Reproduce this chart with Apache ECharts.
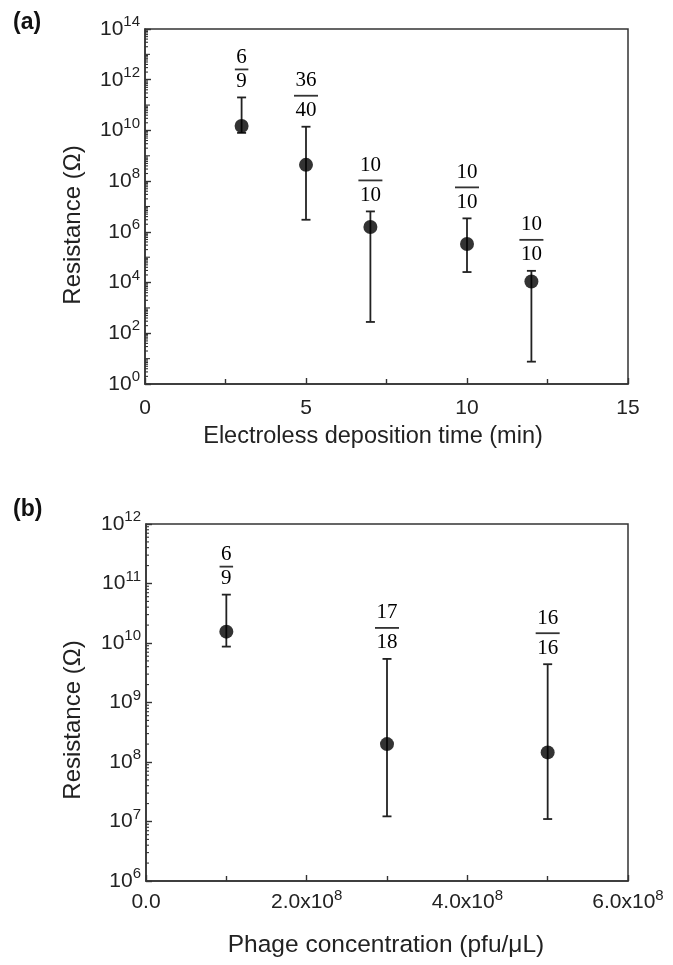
<!DOCTYPE html>
<html><head><meta charset="utf-8">
<script src="https://cdn.jsdelivr.net/npm/echarts@6/dist/echarts.min.js"></script>
<style>html,body{margin:0;padding:0;background:#fff}#c{width:673px;height:965px}</style>
</head><body><div id="c"></div>
<script>
// ---- Panel (a): resistance vs electroless deposition time ----
const timeMin   = [3, 5, 7, 10, 12];
const resA      = [1.5e10, 4.4e8, 1.55e6, 3.3e5, 1.1e4];
const resAHigh  = [2.0e11, 1.4e10, 6.4e6, 3.4e6, 2.9e4];
const resALow   = [8.0e9, 3.0e6, 280, 2.6e4, 7.6];
const fracANum  = ['6', '36', '10', '10', '10'];
const fracADen  = ['9', '40', '10', '10', '10'];
const xTicksA   = [0, 5, 10, 15];
const yExpA     = [0, 2, 4, 6, 8, 10, 12, 14];

// ---- Panel (b): resistance vs phage concentration ----
const phageConc = [1e8, 3e8, 5e8];
const resB      = [1.55e10, 2.0e8, 1.45e8];
const resBHigh  = [6.5e10, 5.4e9, 4.4e9];
const resBLow   = [8.7e9, 1.22e7, 1.1e7];
const fracBNum  = ['6', '17', '16'];
const fracBDen  = ['9', '18', '16'];
const xTicksB   = ['0.0', '2.0x10^8', '4.0x10^8', '6.0x10^8'];
const yExpB     = [6, 7, 8, 9, 10, 11, 12];

const INK = '#222';
const AX = '#333';
const SANS = 'Liberation Sans, Arial, sans-serif';
const SERIF = 'Liberation Serif, Times New Roman, serif';

function errRender(nums, dens) {
  return function (params, api) {
    const x = api.value(0), lo = api.value(1), hi = api.value(2);
    const pLo = api.coord([x, lo]), pHi = api.coord([x, hi]);
    const cap = 4.5;
    const st = { stroke: INK, lineWidth: 1.8 };
    const n = nums[params.dataIndex], d = dens[params.dataIndex];
    const len = Math.max(n.length, d.length);
    const single = len === 1;
    const w = len * 10.5 + 3;
    return {
      type: 'group',
      children: [
        { type: 'line', shape: { x1: pLo[0], y1: pLo[1], x2: pHi[0], y2: pHi[1] }, style: st },
        { type: 'line', shape: { x1: pLo[0] - cap, y1: pLo[1], x2: pLo[0] + cap, y2: pLo[1] }, style: st },
        { type: 'line', shape: { x1: pHi[0] - cap, y1: pHi[1], x2: pHi[0] + cap, y2: pHi[1] }, style: st },
        {
          type: 'text',
          style: {
            text: '{n|' + n + '}\n{bar| }\n{n|' + d + '}',
            x: pHi[0], y: pHi[1] - 6,
            align: 'center', verticalAlign: 'bottom',
            rich: {
              n: { fontFamily: SERIF, fontSize: 21, color: INK, lineHeight: 20, align: 'center' },
              bar: { width: w, height: 1.8, backgroundColor: '#333', lineHeight: single ? 4 : 10, fontSize: 1, align: 'center' }
            }
          }
        }
      ]
    };
  };
}

function tickRender(params, api) {
  const p = api.coord([api.value(0), api.value(1)]);
  const len = api.value(2);
  return { type: 'line', shape: { x1: p[0], y1: p[1], x2: p[0] + len, y2: p[1] }, style: { stroke: AX, lineWidth: 1.1 } };
}

function minorTicks(x0, dMin, dMax, oddMedium) {
  const out = [];
  for (let d = dMin; d < dMax; d++) {
    if (oddMedium && d % 2 === 1) out.push([x0, Math.pow(10, d), 5]);
    for (let m = 2; m <= 9; m++) out.push([x0, m * Math.pow(10, d), 3]);
  }
  return out;
}

const supRich = {
  b: { fontSize: 21, fontFamily: SANS, color: INK },
  e: { fontSize: 15, fontFamily: SANS, color: INK, padding: [0, 0, 14, 0] }
};

function logAxis(gi, expList) {
  return {
    type: 'log', logBase: 10, gridIndex: gi,
    min: Math.pow(10, expList[0]), max: Math.pow(10, expList[expList.length - 1]),
    interval: expList[1] - expList[0],
    axisLine: { show: true, lineStyle: { color: AX, width: 1.5 } },
    axisTick: { show: true, inside: true, length: 6, lineStyle: { color: AX, width: 1.4 } },
    minorTick: { show: false }, splitLine: { show: false },
    axisLabel: {
      margin: 5,
      formatter: v => '{b|10}{e|' + Math.round(Math.log10(v)) + '}',
      rich: supRich
    }
  };
}

const chart = echarts.init(document.getElementById('c'), null, { renderer: 'canvas' });
chart.setOption({
  backgroundColor: '#fff',
  animation: false,
  grid: [
    { left: 145, top: 29, width: 483, height: 355, show: true, borderColor: AX, borderWidth: 1.5, backgroundColor: 'transparent' },
    { left: 146, top: 524, width: 482, height: 357, show: true, borderColor: AX, borderWidth: 1.5, backgroundColor: 'transparent' }
  ],
  xAxis: [
    {
      type: 'value', gridIndex: 0, min: xTicksA[0], max: xTicksA[xTicksA.length - 1], interval: xTicksA[1] - xTicksA[0],
      axisLine: { show: true, lineStyle: { color: AX, width: 1.5 } },
      axisTick: { show: true, inside: true, length: 6, lineStyle: { color: AX, width: 1.4 } },
      minorTick: { show: true, splitNumber: 2, length: 5, lineStyle: { color: AX, width: 1.4 } },
      splitLine: { show: false }, minorSplitLine: { show: false },
      axisLabel: { margin: 14, fontSize: 21, fontFamily: SANS, color: INK }
    },
    {
      type: 'value', gridIndex: 1, min: 0, max: 6e8, interval: 2e8,
      axisLine: { show: true, lineStyle: { color: AX, width: 1.5 } },
      axisTick: { show: true, inside: true, length: 6, lineStyle: { color: AX, width: 1.4 } },
      minorTick: { show: true, splitNumber: 2, length: 5, lineStyle: { color: AX, width: 1.4 } },
      splitLine: { show: false }, minorSplitLine: { show: false },
      axisLabel: {
        margin: 7, fontSize: 21, fontFamily: SANS, color: INK,
        formatter: (v, i) => {
          const t = xTicksB[i] || '';
          const parts = t.split('^');
          return parts.length > 1 ? '{b|' + parts[0] + '}{e|' + parts[1] + '}' : '{b|' + t + '}{e|\u200b}';
        },
        rich: supRich
      }
    }
  ],
  yAxis: [logAxis(0, yExpA), logAxis(1, yExpB)],
  graphic: [
    { type: 'text', left: 13, top: 11, style: { text: '(a)', font: 'bold 23px ' + SANS, fill: '#111' } },
    { type: 'text', left: 13, top: 498, style: { text: '(b)', font: 'bold 23px ' + SANS, fill: '#111' } },
    { type: 'text', x: 373, y: 437, style: { text: 'Electroless deposition time (min)', font: '23.5px ' + SANS, fill: INK, align: 'center', verticalAlign: 'middle' } },
    { type: 'text', x: 386, y: 945, style: { text: 'Phage concentration (pfu/\u03bcL)', font: '24.5px ' + SANS, fill: INK, align: 'center', verticalAlign: 'middle' } },
    { type: 'text', x: 73, y: 225, rotation: Math.PI / 2, style: { text: 'Resistance (\u03a9)', font: '24px ' + SANS, fill: INK, align: 'center', verticalAlign: 'middle' } },
    { type: 'text', x: 73, y: 720, rotation: Math.PI / 2, style: { text: 'Resistance (\u03a9)', font: '24px ' + SANS, fill: INK, align: 'center', verticalAlign: 'middle' } }
  ],
  series: [
    { type: 'custom', xAxisIndex: 0, yAxisIndex: 0, silent: true, renderItem: tickRender, data: minorTicks(0, 0, 14, true), z: 1 },
    { type: 'custom', xAxisIndex: 1, yAxisIndex: 1, silent: true, renderItem: tickRender, data: minorTicks(0, 6, 12, false), z: 1 },
    {
      type: 'custom', xAxisIndex: 0, yAxisIndex: 0, renderItem: errRender(fracANum, fracADen),
      data: timeMin.map((x, i) => [x, resALow[i], resAHigh[i]]), z: 2, clip: false
    },
    {
      type: 'custom', xAxisIndex: 1, yAxisIndex: 1, renderItem: errRender(fracBNum, fracBDen),
      data: phageConc.map((x, i) => [x, resBLow[i], resBHigh[i]]), z: 2, clip: false
    },
    { type: 'scatter', xAxisIndex: 0, yAxisIndex: 0, symbol: 'circle', symbolSize: 14, itemStyle: { color: '#000' }, data: timeMin.map((x, i) => [x, resA[i]]), z: 3 },
    { type: 'scatter', xAxisIndex: 1, yAxisIndex: 1, symbol: 'circle', symbolSize: 14, itemStyle: { color: '#000' }, data: phageConc.map((x, i) => [x, resB[i]]), z: 3 }
  ]
});
</script>
</body></html>
